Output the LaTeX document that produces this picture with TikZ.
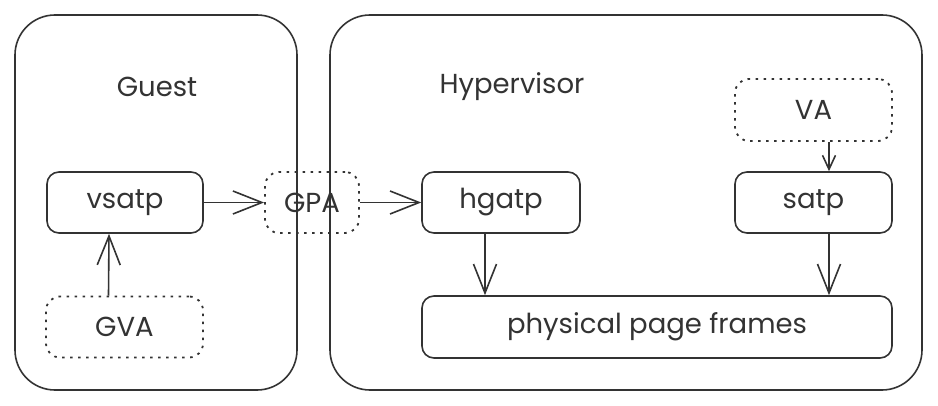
\documentclass[tikz,border=0pt]{standalone}
\usepackage{fontspec}
\setmainfont{Poppins}
\usetikzlibrary{arrows.meta}
\definecolor{ink}{HTML}{333333}
\begin{document}
\begin{tikzpicture}[x=1pt,y=-1pt,
  every node/.style={text=ink,font=\fontsize{27.5}{32}\selectfont},
  frame/.style={draw=ink,line width=1.6pt,rounded corners=40pt},
  solidbox/.style={draw=ink,line width=1.6pt,rounded corners=12pt,inner sep=0pt},
  dotbox/.style={draw=ink,line width=1.8pt,rounded corners=14pt,inner sep=0pt,dash pattern=on 2.5pt off 5.5pt},
  conn/.style={draw=ink,line width=1.6pt,-{Straight Barb[length=29pt,width=23pt,line width=1.6pt]}},
  smallconn/.style={draw=ink,line width=1.6pt,-{Straight Barb[length=14pt,width=13pt,line width=1.6pt]}}
]
\useasboundingbox (0,0) rectangle (938,406);
\fill[white] (0,0) rectangle (938,406);
\draw[frame] (15,15) rectangle (297,390);
\draw[frame] (330,15) rectangle (922,390);
\node (guest) at (157,87) {Guest};
\node (hyp) at (512,87) {Hypervisor};
\node[solidbox,minimum width=156pt,minimum height=61pt] (vsatp) at (125,202.5) {vsatp};
\node[dotbox,minimum width=157pt,minimum height=61pt] (gva) at (124.5,327) {GVA};
\node[dotbox,minimum width=94pt,minimum height=61pt] (gpa) at (312,202.5) {GPA};
\node[solidbox,minimum width=158pt,minimum height=61pt] (hgatp) at (501,202.5) {hgatp};
\node[solidbox,minimum width=157pt,minimum height=61pt] (satp) at (813.5,202.5) {satp};
\node[dotbox,minimum width=157pt,minimum height=62pt] (va) at (813.5,110) {VA};
\node[solidbox,minimum width=470pt,minimum height=62pt] (ppf) at (657,327) {physical page frames};
\draw[conn] ([xshift=-16pt]gva.north) -- ([xshift=-16pt]vsatp.south);
\draw[conn] (vsatp.east) -- (gpa.west);
\draw[conn] (gpa.east) -- (hgatp.west);
\draw[conn] ([xshift=-16pt]hgatp.south) -- ([xshift=-16pt]ppf.north -| hgatp.south);
\draw[conn] ([xshift=15.5pt]satp.south) -- ([xshift=15.5pt]ppf.north -| satp.south);
\draw[smallconn] ([xshift=15.5pt]va.south) -- ([xshift=15.5pt]satp.north);
\end{tikzpicture}
\end{document}
